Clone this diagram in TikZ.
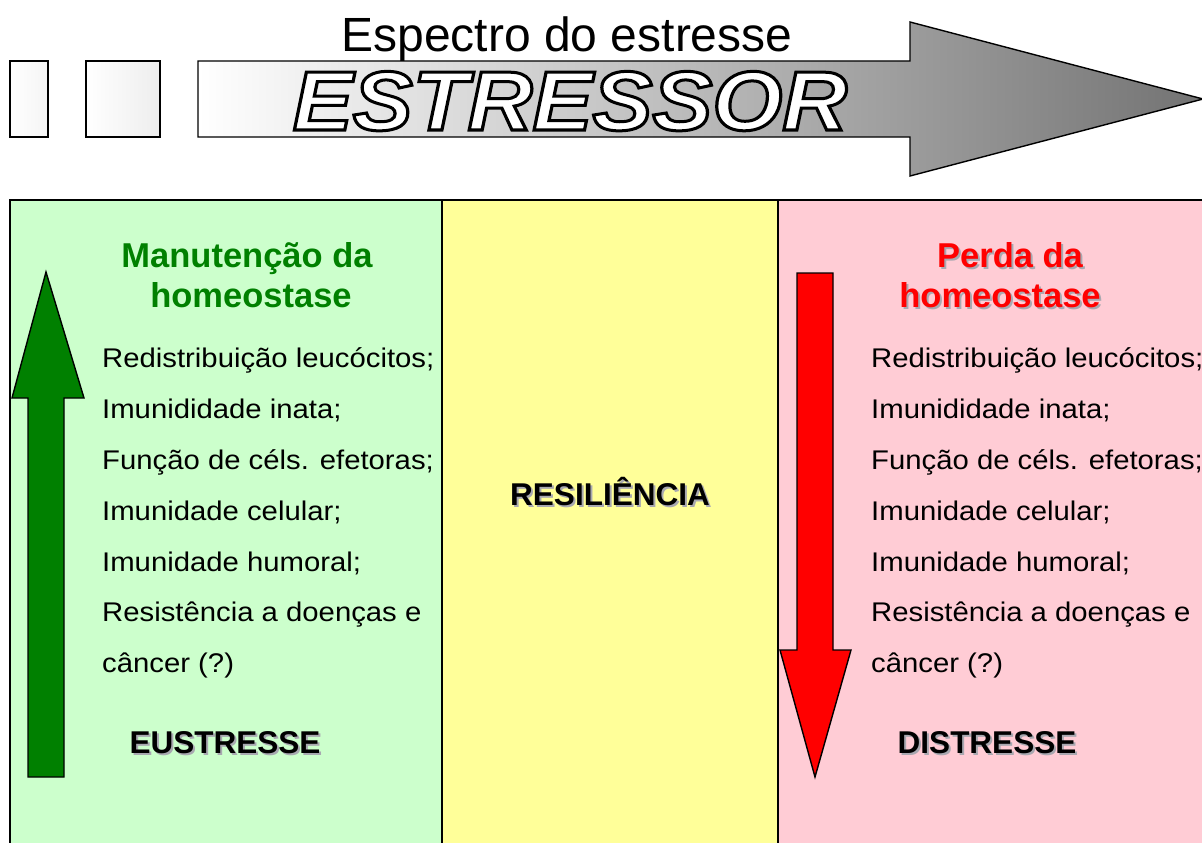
\documentclass[tikz,border=0pt]{standalone}
\usepackage{fontspec}
\setmainfont{Liberation Sans}
\usepackage{graphicx}
\definecolor{pgreen}{HTML}{CCFFCC}
\definecolor{pyellow}{HTML}{FFFF99}
\definecolor{ppink}{HTML}{FFCCD5}
\definecolor{dgreen}{HTML}{008000}
\definecolor{sred}{HTML}{FF0000}
\definecolor{shadowgray}{HTML}{A8A8B0}
\newcommand{\widetxt}[1]{\scalebox{1.085}[1]{#1}}
\newcommand{\outlinetxt}[1]{{\color{white}\special{pdf:literal direct 2 Tr 3 w 0 G}#1\special{pdf:literal direct 0 Tr 1 w}}}
\begin{document}
\begin{tikzpicture}[x=1pt,y=-1pt,
  panel/.style={draw=black, line width=1.5pt},
  shape outline/.style={draw=black, line width=1.4pt, line join=miter},
  item/.style={anchor=base west, inner sep=0pt, font=\fontsize{27}{27}\selectfont},
  heading/.style={anchor=base, inner sep=0pt, font=\fontsize{34.5}{34.5}\selectfont\bfseries},
  label/.style={anchor=base, inner sep=0pt, font=\fontsize{31.5}{31.5}\selectfont\bfseries},
  shadowtext/.style={text=shadowgray}
]
\useasboundingbox (0,0) rectangle (1202,843);
\fill[white] (0,0) rectangle (1202,843);

% ---- top: stressor spectrum ----
\shade[shape outline, left color=white, right color=white!96!black] (10,61) rectangle (48,137);
\shade[shape outline, left color=white, right color=white!93!black] (86,61) rectangle (160,137);
\shade[shape outline, left color=white, right color=black!55]
  (198,61) -- (910,61) -- (910,22) -- (1203,99) -- (910,176) -- (910,137) -- (198,137) -- cycle;
\node[anchor=base, inner sep=0pt, font=\fontsize{48}{48}\selectfont] (title) at (567,52) {Espectro do estresse};
\node[anchor=base, inner sep=0pt, font=\fontsize{84}{84}\selectfont\bfseries\itshape] (stressor) at (570,130)
  {\scalebox{1.07}[1]{\outlinetxt{ESTRESSOR}}};

% ---- panels ----
\draw[panel, fill=pgreen] (10,200) rectangle (442,860);
\draw[panel, fill=pyellow] (442,200) rectangle (778,860);
\draw[panel, fill=ppink] (778,200) rectangle (1215,860);

% ---- arrows ----
\draw[shape outline, fill=dgreen]
  (28,777) -- (28,398) -- (12,398) -- (46,272) -- (84,398) -- (64,398) -- (64,777) -- cycle;
\draw[shape outline, fill=sred]
  (797,273) -- (833,273) -- (833,650) -- (851,650) -- (815,777) -- (780,650) -- (797,650) -- cycle;

% ---- left panel ----
\node[heading, text=dgreen] (mh1) at (247,267) {Manutenção da};
\node[heading, text=dgreen] (mh2) at (251,307) {homeostase};
\node[item] (l1) at (102,367) {\widetxt{Redistribuição leucócitos;}};
\node[item] (l2) at (102,418) {\widetxt{Imunididade inata;}};
\node[item] (l3) at (102,469) {\widetxt{Função de céls. efetoras;}};
\node[item] (l4) at (102,520) {\widetxt{Imunidade celular;}};
\node[item] (l5) at (102,571) {\widetxt{Imunidade humoral;}};
\node[item] (l6) at (102,621) {\widetxt{Resistência a doenças e}};
\node[item] (l7) at (102,672) {\widetxt{câncer (?)}};
\node[label, shadowtext] (eus-s) at (227,755) {EUSTRESSE};
\node[label] (eus) at (225,753) {EUSTRESSE};

% ---- middle panel ----
\node[label, shadowtext] (res-s) at (612,507) {RESILIÊNCIA};
\node[label] (res) at (610,505) {RESILIÊNCIA};

% ---- right panel ----
\node[heading, shadowtext] (ph1-s) at (1012,269) {Perda da};
\node[heading, shadowtext] (ph2-s) at (1002,309) {homeostase};
\node[heading, text=sred] (ph1) at (1010,267) {Perda da};
\node[heading, text=sred] (ph2) at (1000,307) {homeostase};
\node[item] (r1) at (871,367) {\widetxt{Redistribuição leucócitos;}};
\node[item] (r2) at (871,418) {\widetxt{Imunididade inata;}};
\node[item] (r3) at (871,469) {\widetxt{Função de céls. efetoras;}};
\node[item] (r4) at (871,520) {\widetxt{Imunidade celular;}};
\node[item] (r5) at (871,571) {\widetxt{Imunidade humoral;}};
\node[item] (r6) at (871,621) {\widetxt{Resistência a doenças e}};
\node[item] (r7) at (871,672) {\widetxt{câncer (?)}};
\node[label, shadowtext] (dis-s) at (989,755) {DISTRESSE};
\node[label] (dis) at (987,753) {DISTRESSE};
\end{tikzpicture}
\end{document}
